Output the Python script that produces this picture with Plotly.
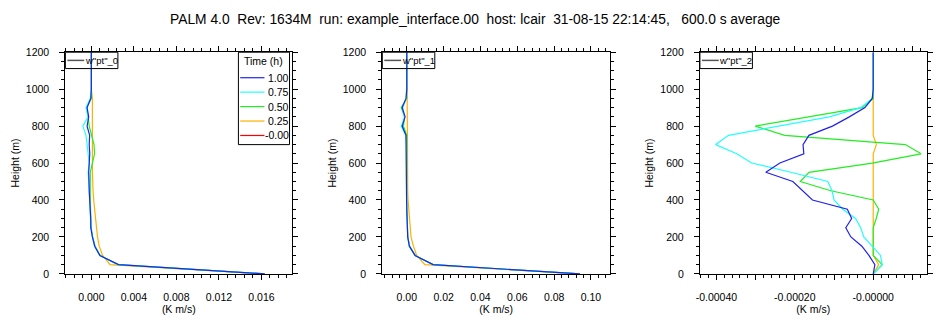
import plotly.graph_objects as go

W, H = 933, 321

heights = [0, 50, 100, 150, 200, 250, 300, 350, 400, 450, 500, 550, 600,
           650, 700, 750, 800, 850, 900, 950, 1000, 1050, 1100, 1150, 1200]

times = ["1.00", "0.75", "0.50", "0.25", "-0.00"]
colors = ["#2222ee", "#22ffff", "#22ee22", "#ffb000", "#ff0000"]
var_names = ['w"pt"_0', 'w"pt"_1', 'w"pt"_2']

# panel 1: w"pt"_0
p0_t100 = [0.0163, 0.00256, 0.0008, 0.00032, 0.0001, -0.00005, -0.00006, -0.00012, -0.00016,
           -0.0002, -0.00022, -0.00025, -0.0002, -0.00015, -0.0002, -0.00016, -0.0004, -0.00025,
           -0.0004, -0.00005, 0, 0, 0, 0, 0]
p0_t075 = [0.0163, 0.0025, 0.0008, 0.0003, 0.0001, -0.00004, -0.00008, -0.00014, -0.00018,
           -0.0002, -0.00025, -0.0003, -0.0002, -0.0003, -0.00045, -0.0005, -0.0008, -0.0003,
           -0.0005, -0.0001, 0, 0, 0, 0, 0]
p0_t050 = [0.0163, 0.0025, 0.00085, 0.00035, 0.00012, -0.00002, -0.00005, -0.0001, -0.0001,
           -0.0001, -0.0001, -0.0001, 0.0001, 0.0003, 0.00025, 0.0, -0.0002, -0.0003,
           -0.00045, 0.0, 0, 0, 0, 0, 0]
p0_t025 = [0.0163, 0.00176, 0.00106, 0.00074, 0.00058, 0.00048, 0.0004, 0.0003, 0.00022,
           0.00016, 0.0001, 0.0001, 0.0001, 0.0001, 0.0001, 0.0001, 0.0001, 0.0001,
           0.0001, 0.0001, 0, 0, 0, 0, 0]

# panel 2: w"pt"_1
p1_t100 = [0.094, 0.0143, 0.0045, 0.0014, 0.0005, 0.0002, 0.0001, 0.0, -0.0001, -0.0001,
           -0.0002, -0.0002, -0.0002, -0.0002, -0.0002, -0.0004, -0.0025, -0.0009, -0.0025,
           -0.0004, 0, 0, 0, 0, 0]
p1_t075 = [0.094, 0.0143, 0.0045, 0.0014, 0.0005, 0.0002, 0.0001, 0.0, -0.0001, -0.0001,
           -0.0002, -0.0002, -0.0002, -0.0002, -0.0003, -0.0006, -0.003, -0.0012, -0.0022,
           -0.0003, 0, 0, 0, 0, 0]
p1_t050 = [0.094, 0.0143, 0.0046, 0.0015, 0.0006, 0.0003, 0.0001, 0.0, 0.0, 0.0,
           0.0, -0.0001, -0.0001, 0.0, 0.0002, 0.0, -0.0018, -0.0012, -0.003,
           0.0, 0, 0, 0, 0, 0]
p1_t025 = [0.094, 0.0098, 0.0054, 0.0036, 0.0023, 0.0018, 0.0013, 0.001, 0.0007, 0.0005,
           0.0004, 0.0004, 0.0004, 0.0004, 0.0004, 0.0004, 0.0004, 0.0004, 0.0004,
           0.0002, 0, 0, 0, 0, 0]

# panel 3: w"pt"_2
p2_t100 = [0.0, 4.2e-6, -1.1e-5, -2.9e-5, -5.7e-5, -7.0e-5, -5.5e-5, -6.6e-5, -1.55e-4,
           -1.8e-4, -2.05e-4, -2.74e-4, -2.38e-4, -1.77e-4, -1.79e-4, -1.64e-4, -1.04e-4,
           -6.1e-5, -2.1e-5, -2.5e-6, 0, 0, 0, 0, 0]
p2_t075 = [0.0, 2.3e-5, 1.85e-5, -2.0e-6, -2.4e-5, -3.2e-5, -4.5e-5, -7.8e-5, -1.0e-4,
           -1.05e-4, -1.16e-4, -2.1e-4, -3.10e-4, -3.48e-4, -4.02e-4, -3.69e-4, -2.36e-4,
           -1.12e-4, -3.2e-5, -2.5e-6, 0, 0, 0, 0, 0]
p2_t050 = [0.0, 2.3e-5, 0.0, 0.0, 0.0, 0.0, 7.6e-6, 1.4e-5, 0.0,
           -1.08e-4, -1.86e-4, -1.64e-4, -2.5e-6, 1.22e-4, 8.2e-5, -2.26e-4, -3.01e-4,
           -1.65e-4, -2.8e-5, 0.0, 0, 0, 0, 0, 0]
p2_t025 = [0.0, 1.4e-5, 0.0, 0.0, 0.0, 0.0, 0.0, 0.0, 0.0,
           0.0, 0.0, 0.0, 0.0, 0.0, 8e-6, 0.0, 0.0,
           0.0, 0.0, 0.0, 0, 0, 0, 0, 0]

panels = [
    [p0_t100, p0_t075, p0_t050, p0_t025],
    [p1_t100, p1_t075, p1_t050, p1_t025],
    [p2_t100, p2_t075, p2_t050, p2_t025],
]

# layout in pixels
px_x = [(62, 291), (382, 612), (702.7, 931.5)]
px_top, px_bot = 48, 278.3
xranges = [(-0.00244, 0.01889), (-0.01328, 0.1104), (-0.000442, 0.0001359)]

def fx(p):
    return p / W

def fy(p):
    return 1 - p / H

FONT = "Liberation Sans, Arial, Helvetica, sans-serif"
TFS = 10.5

fig = go.Figure()

for i, series in enumerate(panels):
    xa = "x" if i == 0 else f"x{i+1}"
    ya = "y" if i == 0 else f"y{i+1}"
    # draw earliest time first so latest (blue) is on top
    for j in reversed(range(len(series))):
        fig.add_trace(go.Scatter(
            x=series[j], y=heights, mode="lines", xaxis=xa, yaxis=ya,
            line=dict(color=colors[j], width=1.2), showlegend=False,
            hoverinfo="skip"))

axis_common = dict(
    showgrid=False, zeroline=False, showline=True, linecolor="black", linewidth=1.2,
    ticks="outside", ticklen=5, tickwidth=1, tickcolor="black", mirror="allticks",
    ticklabelstandoff=8,
    tickfont=dict(family=FONT, size=TFS, color="black"),
)

layout = dict(
    width=W, height=H, margin=dict(l=0, r=0, t=0, b=0),
    paper_bgcolor="white", plot_bgcolor="white", showlegend=False,
    font=dict(family=FONT, size=TFS, color="black"),
)

minor_common = dict(tick0=0, ticklen=3, ticks="outside", tickcolor="black")
xtick_specs = [
    dict(tickmode="linear", tick0=0, dtick=0.004, tickformat=".3f",
         minor=dict(minor_common, dtick=0.0008)),
    dict(tickmode="linear", tick0=0, dtick=0.02, tickformat=".2f",
         minor=dict(minor_common, dtick=0.004)),
    dict(tickmode="array",
         tickvals=[-0.0004, -0.0003, -0.0002, -0.0001, 0.0, 0.0001],
         ticktext=["-0.00040", "", "-0.00020", "", "-0.00000", ""],
         minor=dict(minor_common, dtick=0.00002)),
]

for i in range(3):
    xname = "xaxis" if i == 0 else f"xaxis{i+1}"
    yname = "yaxis" if i == 0 else f"yaxis{i+1}"
    yanchor = "y" if i == 0 else f"y{i+1}"
    xanchor = "x" if i == 0 else f"x{i+1}"
    layout[xname] = dict(
        axis_common, domain=[fx(px_x[i][0]), fx(px_x[i][1])], anchor=yanchor,
        range=list(xranges[i]),
        title=dict(text="(K m/s)", font=dict(family=FONT, size=TFS), standoff=4),
        **xtick_specs[i])
    layout[yname] = dict(
        axis_common, domain=[fy(px_bot), fy(px_top)], anchor=xanchor,
        range=[0, 1200], tickmode="linear", tick0=0, dtick=200,
        minor=dict(minor_common, dtick=50),
        title=dict(text="Height (m)", font=dict(family=FONT, size=TFS), standoff=4))

fig.update_layout(**layout)

# title
fig.add_annotation(
    text="PALM 4.0  Rev: 1634M  run: example_interface.00  host: lcair  31-08-15 22:14:45,   600.0 s average",
    xref="paper", yref="paper", x=fx(476.5), y=fy(14), xanchor="center", yanchor="middle",
    showarrow=False, font=dict(family=FONT, size=13.8, color="black"))

# variable legends (one per panel)
for i in range(3):
    x0 = px_x[i][0]
    fig.add_shape(type="rect", xref="paper", yref="paper",
                  x0=fx(x0), x1=fx(x0 + 53), y0=fy(65), y1=fy(px_top),
                  line=dict(color="black", width=1), fillcolor="rgba(0,0,0,0)", layer="above")
    fig.add_shape(type="line", xref="paper", yref="paper",
                  x0=fx(x0 + 2), x1=fx(x0 + 19), y0=fy(56.5), y1=fy(56.5),
                  line=dict(color="#555555", width=1.5), layer="above")
    fig.add_annotation(text=var_names[i], xref="paper", yref="paper",
                       x=fx(x0 + 17.5), y=fy(56.5), xanchor="left", yanchor="middle",
                       showarrow=False, font=dict(family=FONT, size=9.5, color="black"))

# time legend in panel 1
lx0, lx1 = 236.7, 288.3
fig.add_shape(type="rect", xref="paper", yref="paper",
              x0=fx(lx0), x1=fx(lx1), y0=fy(144), y1=fy(px_top),
              line=dict(color="black", width=1), fillcolor="white", layer="above")
fig.add_annotation(text="Time (h)", xref="paper", yref="paper",
                   x=fx((lx0 + lx1) / 2), y=fy(57), xanchor="center", yanchor="middle",
                   showarrow=False, font=dict(family=FONT, size=TFS, color="black"))
for k, (t, c) in enumerate(zip(times, colors)):
    yy = 74.5 + 15 * k
    fig.add_shape(type="line", xref="paper", yref="paper",
                  x0=fx(238.5), x1=fx(263), y0=fy(yy), y1=fy(yy),
                  line=dict(color=c, width=1.2), layer="above")
    fig.add_annotation(text=t, xref="paper", yref="paper",
                       x=fx(290), y=fy(yy), xanchor="right", yanchor="middle",
                       showarrow=False, font=dict(family=FONT, size=TFS, color="black"))

fig.write_html("out.html")
